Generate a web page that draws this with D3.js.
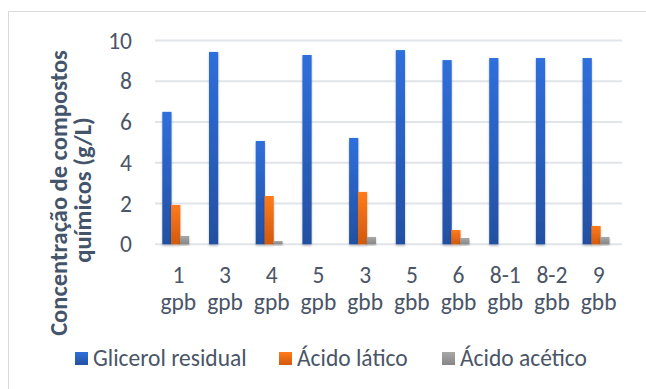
<!DOCTYPE html>
<html><head><meta charset="utf-8">
<script src="https://cdn.jsdelivr.net/npm/d3@7"></script>
<style>html,body{margin:0;padding:0;background:#fff;}svg{display:block;font-family:Carlito,Calibri,Lato,sans-serif;}</style>
</head><body>
<svg id="c" width="646" height="389"></svg>
<script>
const categories = [["1","gpb"],["3","gpb"],["4","gpb"],["5","gpb"],["3","gbb"],["5","gbb"],["6","gbb"],["8-1","gbb"],["8-2","gbb"],["9","gbb"]];
const seriesNames = ["Glicerol residual","Ácido lático","Ácido acético"];
const glicerol = [6.5, 9.44, 5.07, 9.29, 5.22, 9.53, 9.04, 9.14, 9.14, 9.14];
const latico   = [1.93, null, 2.37, null, 2.57, null, 0.70, null, null, 0.90];
const acetico  = [0.41, null, 0.16, null, 0.36, null, 0.31, null, null, 0.36];
const yTicks = [0,2,4,6,8,10];
const seriesValues = [glicerol, latico, acetico];

const svg = d3.select("#c");
const textColor = "#4A5568";
const fs = "23.5px";
const gradStops = [["#2F6FDC","#2350A1"],["#FF7B1C","#D2590E"],["#A8A8A8","#868686"]];
const defs = svg.append("defs");
gradStops.forEach((g,i)=>{
  const lg = defs.append("linearGradient").attr("id","g"+i).attr("x1",0).attr("y1",0).attr("x2",0).attr("y2",1);
  lg.append("stop").attr("offset","0%").attr("stop-color",g[0]);
  lg.append("stop").attr("offset","100%").attr("stop-color",g[1]);
});
const f = defs.append("filter").attr("id","sh").attr("x","-50%").attr("y","-10%").attr("width","200%").attr("height","130%");
f.append("feDropShadow").attr("dx",0).attr("dy",1.5).attr("stdDeviation",1.2).attr("flood-color","#000").attr("flood-opacity",0.25);

// border
svg.append("rect").attr("x",8.5).attr("y",11.5).attr("width",700).attr("height",420)
  .attr("fill","none").attr("stroke","#D9D9D9").attr("stroke-width",1);

const plot = {left:155, right:622, top:40.5, bottom:244.3};
const x0 = d3.scaleBand().domain(d3.range(categories.length)).range([plot.left, plot.right]).padding(0);
const x1 = d3.scaleBand().domain(d3.range(seriesNames.length)).range([0, 26.5]).padding(0);
const y = d3.scaleLinear().domain([0,10]).range([plot.bottom, plot.top]);

// gridlines
svg.append("g").selectAll("line").data(yTicks).join("line")
  .attr("x1",plot.left).attr("x2",plot.right)
  .attr("y1",d=>y(d)).attr("y2",d=>y(d))
  .attr("stroke","#E1E4E9").attr("stroke-width",2);

// y axis labels
const yAxis = d3.axisLeft(y).tickValues(yTicks).tickSize(0).tickPadding(0).tickFormat(d3.format("d"));
const ya = svg.append("g").attr("transform","translate(132,0)").call(yAxis);
ya.select(".domain").remove();
ya.selectAll("text").attr("fill",textColor).style("font-size",fs).style("font-family","Carlito,Calibri,Lato,sans-serif");

// bars
const groupOffset = 7.3;
seriesValues.forEach((vals,si)=>{
  svg.append("g").attr("filter","url(#sh)").selectAll("rect").data(vals.map((v,i)=>({v,i})).filter(d=>d.v!=null)).join("rect")
    .attr("x",d=>x0(d.i)+groupOffset+x1(si))
    .attr("width",x1.bandwidth()+0.4)
    .attr("y",d=>y(d.v))
    .attr("height",d=>y(0)-y(d.v))
    .attr("fill","url(#g"+si+")");
});

// x axis labels
const xl = svg.append("g");
categories.forEach((c,i)=>{
  const cx = x0(i)+x0.bandwidth()/2;
  const t = xl.append("text").attr("x",cx).attr("text-anchor","middle").attr("fill",textColor).style("font-size",fs);
  t.append("tspan").attr("x",cx).attr("y",283).text(c[0]);
  t.append("tspan").attr("x",cx).attr("y",310).text(c[1]);
});

// y title
svg.append("text").attr("transform","translate(67,193) rotate(-90)").attr("fill","#44546A")
  .style("font-size","24.5px").style("font-weight","bold").attr("text-anchor","middle").text("Concentração de compostos");
svg.append("text").attr("transform","translate(91,190) rotate(-90)").attr("fill","#44546A")
  .style("font-size","24.5px").style("font-weight","bold").attr("text-anchor","middle").text("químicos (g/L)");

// legend
const legX = [75, 279, 442];
const lg = svg.append("g");
seriesNames.forEach((n,i)=>{
  lg.append("rect").attr("x",legX[i]).attr("y",352).attr("width",13).attr("height",13).attr("fill","url(#g"+i+")");
  lg.append("text").attr("x",legX[i]+18).attr("y",366).attr("fill",textColor).style("font-size",fs).text(n);
});
</script>
</body></html>
